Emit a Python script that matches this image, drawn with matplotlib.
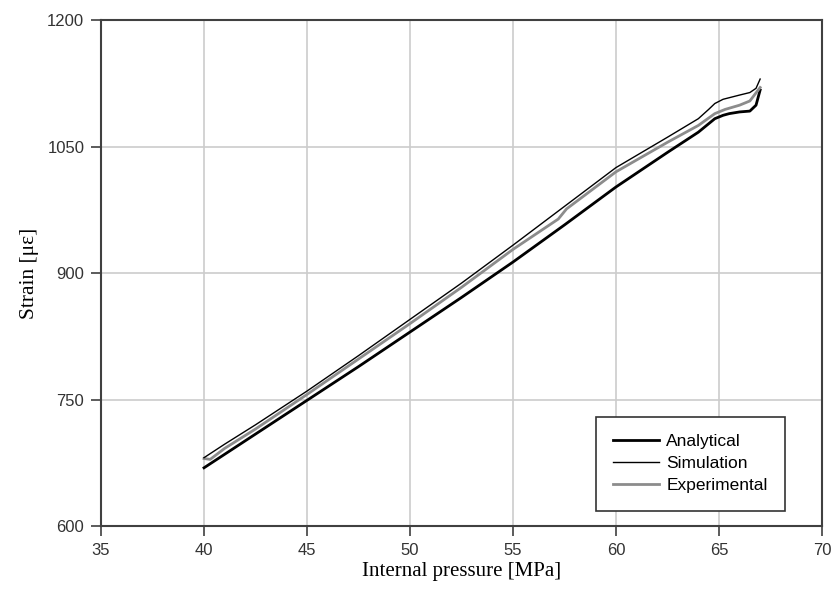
import matplotlib
matplotlib.use('Agg')
import matplotlib.pyplot as plt

# pressure [MPa] / strain [microstrain]
p_ana = [40, 41, 42.5, 45, 47.5, 50, 52.5, 55, 57.5, 60, 62.5, 64, 64.5, 64.8, 65.2, 65.5, 66, 66.5, 66.8, 67]
e_ana = [669, 685, 709, 749, 789, 830, 871, 913, 957, 1002, 1043, 1067, 1077, 1083, 1087, 1089, 1091, 1092, 1099, 1117]

p_sim = [40, 41, 42.5, 45, 47.5, 50, 52.5, 55, 57.5, 60, 62.5, 64, 64.5, 64.8, 65.2, 66, 66.5, 66.8, 67]
e_sim = [681, 697, 720, 760, 802, 845, 888, 933, 979, 1025, 1061, 1083, 1094, 1101, 1106, 1111, 1114, 1119, 1130]

p_exp = [40, 40.3, 41, 42.5, 45, 47.5, 50, 52.5, 55, 57.2, 57.6, 60, 62.5, 64, 64.8, 65.3, 66, 66.5, 67]
e_exp = [680, 679, 692, 715, 756, 798, 840, 883, 928, 964, 976, 1020, 1055, 1075, 1089, 1094, 1099, 1104, 1120]

fig = plt.figure(figsize=(8.37, 6.03), dpi=100)
ax = fig.add_axes([0.1207, 0.1277, 0.8613, 0.8391])

ax.plot(p_ana, e_ana, color='black', lw=2.0, label='Analytical', zorder=3)
ax.plot(p_sim, e_sim, color='black', lw=1.0, label='Simulation', zorder=4)
ax.plot(p_exp, e_exp, color='#8c8c8c', lw=2.0, label='Experimental', zorder=3)

ax.set_xlim(35, 70)
ax.set_ylim(600, 1200)
ax.set_xticks(range(35, 71, 5))
ax.set_yticks([600, 750, 900, 1050, 1200])
ax.grid(True, color='#cccccc', lw=1.2)
ax.set_axisbelow(True)

for s in ax.spines.values():
    s.set_color('#404040')
    s.set_linewidth(1.5)
ax.tick_params(direction='out', length=7, width=1.2, color='#404040',
               labelsize=12, labelcolor='#333333', pad=5)
for lab in ax.get_xticklabels() + ax.get_yticklabels():
    lab.set_family('Liberation Sans')

ax.set_xlabel('Internal pressure [MPa]', family='Liberation Serif', fontsize=15, labelpad=3)
ax.set_ylabel('Strain [\u03bc\u03b5]', family='Liberation Serif', fontsize=15.5, labelpad=6)

leg = ax.legend(loc='lower right', bbox_to_anchor=(0.949, 0.03), frameon=True,
                fancybox=False, edgecolor='#333333', framealpha=1,
                prop={'family': 'Liberation Sans', 'size': 12.5},
                handlelength=2.6, borderpad=1.0, labelspacing=0.4, handletextpad=0.45,
                borderaxespad=0)
leg.get_frame().set_linewidth(1.2)

fig.savefig('out.png', dpi=100)
